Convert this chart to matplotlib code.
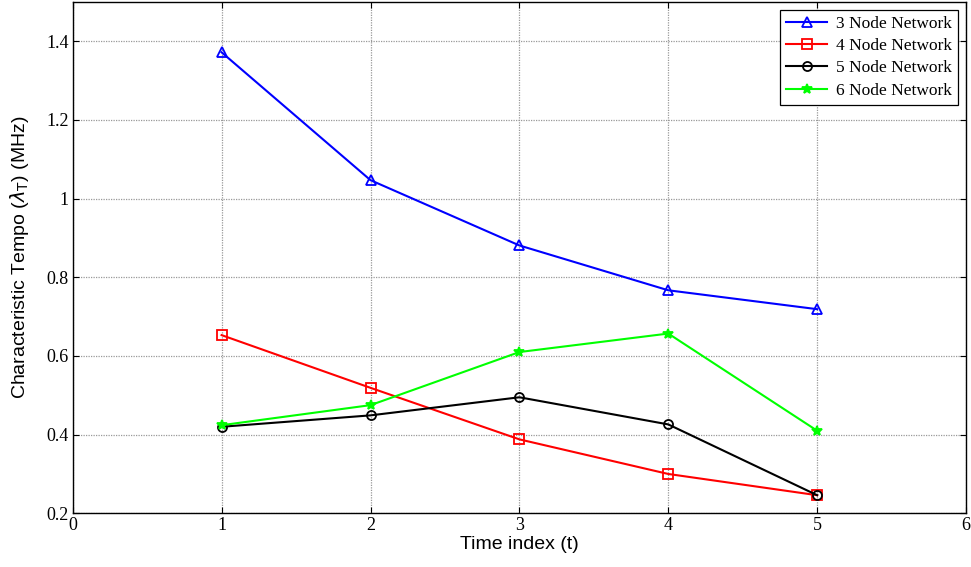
import numpy as np
import matplotlib
matplotlib.use('Agg')
import matplotlib.pyplot as plt

time_index = [1, 2, 3, 4, 5]
node3 = [1.372, 1.047, 0.881, 0.767, 0.719]
node4 = [0.653, 0.519, 0.388, 0.300, 0.246]
node5 = [0.420, 0.449, 0.495, 0.426, 0.246]
node6 = [0.424, 0.475, 0.610, 0.657, 0.410]

series = [
    ('3 Node Network', node3, 'b', '^', 'none'),
    ('4 Node Network', node4, 'r', 's', 'none'),
    ('5 Node Network', node5, 'k', 'o', 'none'),
    ('6 Node Network', node6, '#00ff00', '*', '#00ff00'),
]

plt.rcParams['mathtext.fontset'] = 'dejavusans'

fig = plt.figure(figsize=(9.71, 5.67), dpi=100)
ax = fig.add_axes([0.0749, 0.0947, 0.92, 0.9018])

for name, vals, col, mk, fc in series:
    ax.plot(time_index, vals, color=col, marker=mk, markerfacecolor=fc,
            markeredgecolor=col, markersize=7 if mk == '*' else 6.5,
            markeredgewidth=1.3, linewidth=1.5, label=name)

ax.set_xlim(0, 6)
ax.set_ylim(0.2, 1.5)
ax.set_xticks(np.arange(0, 7, 1))
ax.set_yticks([0.2, 0.4, 0.6, 0.8, 1.0, 1.2, 1.4])
ax.set_yticklabels(['0.2', '0.4', '0.6', '0.8', '1', '1.2', '1.4'])
ax.grid(True, color='#999999', linestyle=(0, (1, 1)), linewidth=0.9)
ax.tick_params(direction='in', top=True, right=True, length=4, width=0.8,
               labelsize=13, pad=3)
for lab in ax.get_xticklabels() + ax.get_yticklabels():
    lab.set_fontfamily('Liberation Serif')
for sp in ax.spines.values():
    sp.set_linewidth(1.0)

ax.set_xlabel('Time index (t)', fontsize=14, family='Liberation Sans', labelpad=1)
ax.set_ylabel(r'Characteristic Tempo ($\lambda_{\mathrm{T}}$) (MHz)', fontsize=14,
              family='Liberation Sans', labelpad=11)

leg = ax.legend(loc='upper right', prop={'family': 'Liberation Serif', 'size': 12.5},
                fancybox=False, framealpha=1, edgecolor='k', borderpad=0.35,
                labelspacing=0.35, handlelength=2.4, handletextpad=0.5,
                borderaxespad=0.45)
leg.get_frame().set_linewidth(0.9)

fig.savefig('out.png', dpi=100)
